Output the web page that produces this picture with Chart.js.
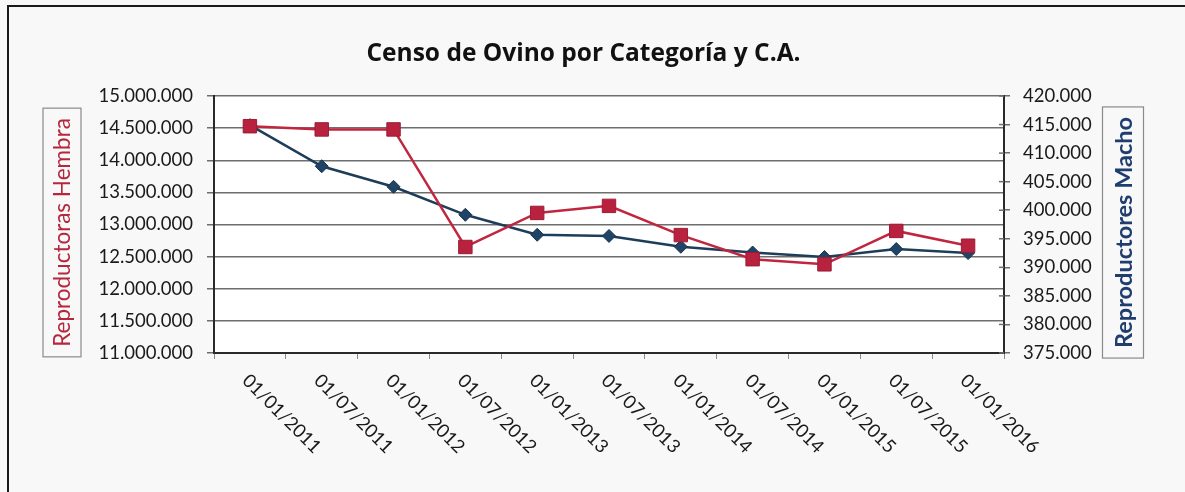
<!DOCTYPE html>
<html>
<head>
<meta charset="utf-8">
<title>Censo de Ovino</title>
<script src="https://cdn.jsdelivr.net/npm/chart.js@4.4.1/dist/chart.umd.min.js"></script>
<style>
  html, body { margin: 0; padding: 0; background: #f8f8f8; }
  canvas { display: block; }
</style>
</head>
<body>
<canvas id="myChart" width="1185" height="492"></canvas>
<script>
const fechas = ['01/01/2011', '01/07/2011', '01/01/2012', '01/07/2012', '01/01/2013', '01/07/2013',
    '01/01/2014', '01/07/2014', '01/01/2015', '01/07/2015', '01/01/2016'];

// Reproductoras Hembra (eje izquierdo)
const hembras = [14530000, 14480000, 14480000, 12650000, 13180000, 13290000,
    12835000, 12460000, 12380000, 12900000, 12670000];

// Reproductores Macho (eje derecho)
const machos = [414900, 407700, 404100, 399200, 395700, 395500,
    393600, 392600, 391800, 393200, 392500];

const redColor = '#c0263f'
const blueColor = '#1d3d58'

function puntos(n) {
    return String(Math.round(n)).replace(/\B(?=(\d{3})+(?!\d))/g, '.');
}

// marco exterior y fondo blanco del area de trazado
const fondo = {
    id: 'fondo',
    beforeDraw(chart) {
        const { ctx, chartArea: a } = chart;
        ctx.save();
        ctx.fillStyle = '#ffffff';
        ctx.fillRect(a.left, a.top, a.right - a.left, a.bottom - a.top);
        ctx.strokeStyle = '#1a1a1a';
        ctx.lineWidth = 2;
        ctx.strokeRect(8, 6, 1400, 800);
        ctx.restore();
    }
};

// titulos de los ejes (con recuadro) y etiquetas del eje x en diagonal
const extras = {
    id: 'extras',
    afterDraw(chart) {
        const { ctx, chartArea: a } = chart;
        const cy = (a.top + a.bottom) / 2 + 8;

        function tituloEje(text, cx, font, color, half) {
            ctx.save();
            ctx.font = font;
            const w = ctx.measureText(text).width;
            ctx.translate(cx, cy);
            ctx.rotate(-Math.PI / 2);
            ctx.fillStyle = color;
            ctx.textAlign = 'center';
            ctx.textBaseline = 'middle';
            ctx.fillText(text, 0, 1);
            ctx.strokeStyle = '#8a8a8a';
            ctx.lineWidth = 1.2;
            ctx.strokeRect(-w / 2 - 10, -half, w + 20, half * 2);
            ctx.restore();
        }

        tituloEje('Reproductoras Hembra', chart.scales.y.left + 62, '22.5px Lato', '#b5273d', 19);
        tituloEje('Reproductores Macho', chart.scales.y1.right + 18 - 62, 'bold 23.5px Lato', '#1f3d6e', 20.5);

        // marcas del eje derecho hacia dentro
        const r = chart.scales.y1;
        ctx.save();
        ctx.strokeStyle = '#6e6e6e';
        ctx.lineWidth = 1.5;
        r.ticks.forEach((t, i) => {
            const py = r.getPixelForTick(i);
            ctx.beginPath();
            ctx.moveTo(a.right - 5, py);
            ctx.lineTo(a.right, py);
            ctx.stroke();
        });
        ctx.restore();

        const x = chart.scales.x;
        ctx.save();
        ctx.font = '18.5px Lato';
        ctx.fillStyle = '#1a1a1a';
        ctx.textAlign = 'left';
        ctx.textBaseline = 'top';
        x.ticks.forEach((t, i) => {
            ctx.save();
            ctx.translate(x.getPixelForTick(i) + 2, x.top + 18);
            ctx.rotate(Math.PI / 4);
            ctx.fillText(fechas[i], 0, 0);
            ctx.restore();
        });
        ctx.restore();
    }
};

Chart.defaults.font.family = 'Lato';
Chart.defaults.color = '#1a1a1a';

const ctx = document.getElementById('myChart');

new Chart(ctx, {
    type: 'line',
    data: {
        labels: fechas,
        datasets: [{
            label: 'Reproductoras Hembra',
            data: hembras,
            yAxisID: 'y',
            borderColor: redColor,
            borderWidth: 2.5,
            pointStyle: 'rect',
            pointRadius: 9.5,
            pointBackgroundColor: '#b8223f',
            pointBorderColor: '#9c1c34',
            pointBorderWidth: 1,
            tension: 0
        }, {
            label: 'Reproductores Macho',
            data: machos,
            yAxisID: 'y1',
            borderColor: blueColor,
            borderWidth: 2.5,
            pointStyle: 'rectRot',
            pointRadius: 6.5,
            pointBackgroundColor: '#1f4466',
            pointBorderColor: '#173450',
            pointBorderWidth: 1,
            tension: 0
        }]
    },
    options: {
        responsive: false,
        animation: false,
        layout: {
            padding: { left: 0, right: 18, top: 0, bottom: 0 }
        },
        scales: {
            x: {
                offset: true,
                grid: {
                    drawOnChartArea: false,
                    offset: true,
                    tickLength: 6,
                    color: '#8a8a8a',
                    lineWidth: 1
                },
                border: { color: '#2a2a2a', width: 2 },
                ticks: { display: false },
                afterFit(s) { s.height = 139 }
            },
            y: {
                position: 'left',
                min: 11000000,
                max: 15000000,
                ticks: {
                    stepSize: 500000,
                    padding: 14,
                    font: { size: 18.5 },
                    color: '#1a1a1a',
                    callback: v => puntos(v)
                },
                grid: {
                    color: '#6e6e6e',
                    lineWidth: 1.5,
                    tickLength: 7
                },
                border: { color: '#2a2a2a', width: 2 },
                afterFit(s) { s.width = 214 }
            },
            y1: {
                position: 'right',
                min: 375000,
                max: 420000,
                ticks: {
                    stepSize: 5000,
                    padding: 13,
                    font: { size: 18.5 },
                    color: '#1a1a1a',
                    callback: v => puntos(v)
                },
                grid: {
                    drawOnChartArea: false,
                    color: '#6e6e6e',
                    lineWidth: 1.5,
                    tickLength: 6
                },
                border: { color: '#2a2a2a', width: 2 },
                afterFit(s) { s.width = 163 }
            }
        },
        plugins: {
            legend: { display: false },
            tooltip: { enabled: false },
            title: {
                display: true,
                text: 'Censo de Ovino por Categoría y C.A.',
                color: '#111111',
                font: { family: 'Open Sans', size: 24.5, weight: 'bold' },
                padding: { top: 39, bottom: 27.6 }
            }
        }
    },
    plugins: [fondo, extras]
});
</script>
</body>
</html>
